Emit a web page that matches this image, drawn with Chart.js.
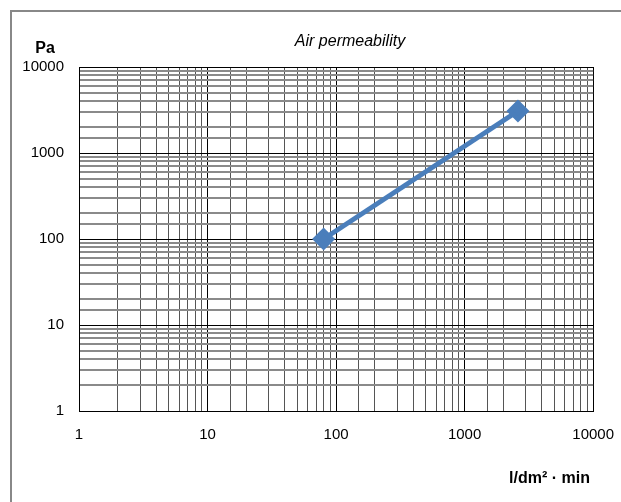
<!DOCTYPE html>
<html lang="en">
<head>
  <meta charset="UTF-8">
  <title>Air permeability</title>
  <script src="https://cdn.jsdelivr.net/npm/chart.js"></script>
  <style>
    body { margin: 0; background: #fff; font-family: 'Liberation Sans', Arial, sans-serif; }
    .wrap { position: relative; width: 621px; height: 502px; overflow: hidden; }
    .frame { position: absolute; left: 10px; top: 10px; width: 640px; height: 520px; border: 2px solid #888; box-sizing: border-box; pointer-events: none; }
    canvas { position: absolute; left: 0; top: 0; }
  </style>
</head>
<body>
<div class="wrap">
  <canvas id="myChart" width="629" height="502"></canvas>
  <div class="frame"></div>
</div>
<script>
  // air flow (l/dm² · min) vs pressure (Pa)
  const flowValues = [80, 2600];
  const pressureValues = [100, 3080];
  const decadeLabels = [1, 10, 100, 1000, 10000];

  const chartTitle = 'Air permeability';
  const yTitle = 'Pa';
  const xTitle = 'l/dm² · min';

  function isDecade(v) {
    return decadeLabels.includes(Math.round(v * 1000) / 1000);
  }

  // texts around the plot
  const labelsPlugin = {
    id: 'labels',
    afterDraw(chart) {
      const ctx = chart.ctx;
      ctx.save();
      ctx.fillStyle = '#000';
      ctx.textBaseline = 'middle';
      ctx.font = 'italic 16px "Liberation Sans", Arial, sans-serif';
      ctx.textAlign = 'center';
      ctx.fillText(chartTitle, 350, 42);
      ctx.font = 'bold 16px "Liberation Sans", Arial, sans-serif';
      ctx.fillText(yTitle, 45, 49);
      ctx.textAlign = 'right';
      ctx.fillText(xTitle, 590, 479);
      ctx.restore();
    }
  };

  const ctx = document.getElementById('myChart').getContext('2d');
  new Chart(ctx, {
    type: 'line',
    data: {
      datasets: [{
        data: flowValues.map((x, i) => ({ x: x, y: pressureValues[i] })),
        borderColor: '#4a7ebb',
        backgroundColor: '#4a7ebb',
        borderWidth: 5,
        pointStyle: 'rectRot',
        pointRadius: 8,
        pointHoverRadius: 8,
        fill: false
      }]
    },
    options: {
      responsive: false,
      animation: false,
      layout: { padding: { left: 12, right: 20, top: 67, bottom: 0 } },
      plugins: { legend: { display: false }, tooltip: { enabled: false } },
      scales: {
        x: {
          type: 'logarithmic',
          min: 1, max: 10000,
          afterFit: s => { s.height = 91; },
          border: { color: '#000', width: 1 },
          grid: {
            drawTicks: false,
            color: c => isDecade(c.tick.value) ? '#000' : '#555',
            lineWidth: 1
          },
          ticks: {
            autoSkip: false, maxRotation: 0, padding: 15,
            color: '#000',
            font: { family: '"Liberation Sans", Arial, sans-serif', size: 15 },
            callback: v => isDecade(v) ? String(v) : ''
          }
        },
        y: {
          type: 'logarithmic',
          min: 1, max: 10000,
          afterFit: s => { s.width = 67; },
          border: { color: '#000', width: 1 },
          grid: {
            drawTicks: false,
            color: c => isDecade(c.tick.value) ? '#000' : '#8a8a8a',
            lineWidth: c => isDecade(c.tick.value) ? 1 : 2
          },
          ticks: {
            autoSkip: false, padding: 15,
            color: '#000',
            font: { family: '"Liberation Sans", Arial, sans-serif', size: 15 },
            callback: v => isDecade(v) ? String(v) : ''
          }
        }
      }
    },
    plugins: [labelsPlugin]
  });
</script>
</body>
</html>
